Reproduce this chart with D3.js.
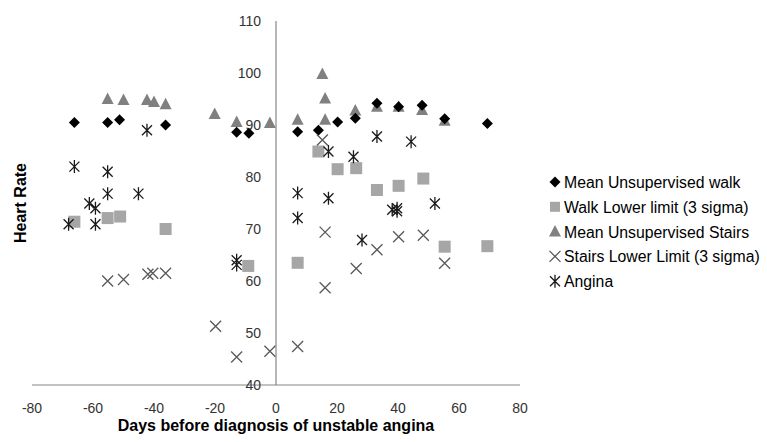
<!DOCTYPE html>
<html><head><meta charset="utf-8">
<script src="https://cdn.jsdelivr.net/npm/d3@7"></script>
<style>body{margin:0;background:#fff;} svg{display:block;font-family:"Liberation Sans",Arial,sans-serif;}</style>
</head><body>
<svg id="c" width="767" height="442"></svg>
<script>
const xTicks = [-80,-60,-40,-20,0,20,40,60,80];
const yTicks = [40,50,60,70,80,90,100,110];

const walkX = [-66.1,-55.2,-51.3,-36.2,-12.9,-8.9,7.1,13.9,20.2,26.0,33.1,40.2,47.9,55.3,69.3];
const walkY = [90.5,90.5,91.0,90.0,88.6,88.4,88.7,89.0,90.6,91.3,94.2,93.5,93.8,91.2,90.3];

const walkLowX = [-66.1,-55.2,-51.1,-36.2,-9.1,7.1,13.9,20.2,26.3,33.1,40.2,48.3,55.3,69.3];
const walkLowY = [71.4,72.1,72.4,70.0,62.9,63.5,84.9,81.5,81.7,77.5,78.3,79.7,66.6,66.7];

const stairsX = [-55.2,-50.0,-42.3,-40.0,-36.2,-20.1,-12.9,-2.0,7.1,15.2,16.1,16.1,26.0,33.1,40.2,47.9,55.3];
const stairsY = [95.0,94.8,94.8,94.4,94.0,92.1,90.6,90.4,91.0,99.8,95.1,91.0,92.8,93.5,93.5,92.9,90.8];

const stairsLowX = [-55.2,-50.0,-42.0,-40.4,-36.2,-19.8,-12.9,-2.0,7.1,15.2,16.1,16.1,26.3,33.1,40.2,48.3,55.3];
const stairsLowY = [60.0,60.3,61.3,61.5,61.5,51.3,45.4,46.5,47.4,87.1,69.4,58.7,62.4,66.0,68.5,68.8,63.4];

const anginaX = [-68.0,-66.1,-61.2,-59.2,-59.2,-55.2,-55.2,-45.1,-42.3,-12.9,-12.9,7.1,7.1,17.2,17.2,25.4,28.2,33.1,38.1,39.7,39.7,44.3,52.1];
const anginaY = [70.9,82.0,74.9,74.0,70.9,81.0,76.8,76.8,89.0,64.0,63.1,76.9,72.1,84.9,75.9,83.9,67.9,87.8,73.7,74.0,73.4,86.8,74.9];

const seriesNames = ["Mean Unsupervised walk","Walk Lower limit (3 sigma)","Mean Unsupervised Stairs","Stairs Lower Limit (3 sigma)","Angina"];

const svg = d3.select("#c");
const x = d3.scaleLinear().domain([-80,80]).range([32,520]);
const y = d3.scaleLinear().domain([40,110]).range([385,21]);
const axisCol = "#868686", tickCol = "#333333";

// axes lines
svg.append("line").attr("x1",x(-80)).attr("x2",x(80)).attr("y1",y(40)).attr("y2",y(40))
  .attr("stroke",axisCol).attr("stroke-width",1.2);
svg.append("line").attr("x1",x(0)).attr("x2",x(0)).attr("y1",y(40)).attr("y2",y(110))
  .attr("stroke",axisCol).attr("stroke-width",1.2);

// tick labels
svg.append("g").selectAll("text").data(xTicks).join("text")
  .attr("x",d=>x(d)).attr("y",413).attr("text-anchor","middle")
  .attr("font-size",14).attr("fill",tickCol).text(d=>d);
svg.append("g").selectAll("text").data(yTicks).join("text")
  .attr("x",x(0)-15).attr("y",d=>y(d)+5).attr("text-anchor","end")
  .attr("font-size",14).attr("fill",tickCol).text(d=>d);

// axis titles
svg.append("text").attr("x",x(0)).attr("y",431).attr("text-anchor","middle")
  .attr("font-size",16).attr("font-weight","bold").attr("fill","#000")
  .text("Days before diagnosis of unstable angina");
svg.append("text").attr("transform","translate(26,203) rotate(-90)").attr("text-anchor","middle")
  .attr("font-size",16).attr("font-weight","bold").attr("fill","#000").text("Heart Rate");

// marker drawers
function drawMarker(g, type){
  if(type===0){
    g.append("path").attr("d","M0,-5.5L5.5,0L0,5.5L-5.5,0Z").attr("fill","#000");
  } else if(type===1){
    g.append("rect").attr("x",-6).attr("y",-6).attr("width",12).attr("height",12).attr("fill","#a6a6a6");
  } else if(type===2){
    g.append("path").attr("d","M0,-6.5L6,5L-6,5Z").attr("fill","#808080");
  } else if(type===3){
    g.append("path").attr("d","M-5.5,-5.5L5.5,5.5M-5.5,5.5L5.5,-5.5").attr("stroke","#595959").attr("stroke-width",1.3).attr("fill","none");
  } else {
    g.append("path").attr("d","M-5,-5L5,5M-5,5L5,-5M0,-6.5L0,6.5").attr("stroke","#1a1a1a").attr("stroke-width",1.3).attr("fill","none");
  }
}

const series = [
  [walkLowX,walkLowY,1],
  [stairsX,stairsY,2],
  [walkX,walkY,0],
  [stairsLowX,stairsLowY,3],
  [anginaX,anginaY,4]
];
series.forEach(([xs,ys,t])=>{
  const g = svg.append("g");
  xs.forEach((xv,i)=>{
    const m = g.append("g").attr("transform",`translate(${x(xv)},${y(ys[i])})`);
    drawMarker(m,t);
  });
});

// legend
const lg = svg.append("g");
seriesNames.forEach((n,i)=>{
  const yy = 182 + i*24.8;
  const m = lg.append("g").attr("transform",`translate(555,${yy})`);
  drawMarker(m,i);
  if(i===1) m.select("rect").attr("x",-5).attr("y",-5).attr("width",10).attr("height",10);
  lg.append("text").attr("x",564).attr("y",yy+6).attr("font-size",15.8).attr("fill","#000").text(n);
});
</script>
</body></html>
